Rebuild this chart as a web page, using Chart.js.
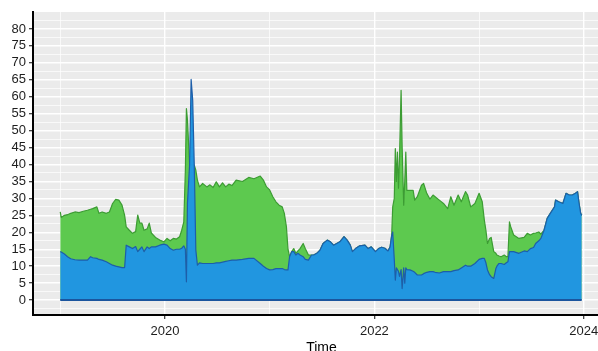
<!DOCTYPE html>
<html>
<head>
<meta charset="utf-8">
<script src="https://cdn.jsdelivr.net/npm/chart.js@4/dist/chart.umd.min.js"></script>
<style>
  html, body { margin: 0; padding: 0; background: #ffffff; overflow: hidden; }
  #wrap { width: 598px; height: 351px; overflow: hidden; position: relative; }
  canvas { display: block; }
</style>
</head>
<body>
<div id="wrap"><canvas id="chart" width="610" height="358"></canvas></div>
<script>
// Observation dates as decimal years
const dates = [
  2019.000, 2019.010, 2019.040, 2019.070, 2019.100, 2019.140, 2019.180, 2019.220, 2019.260, 2019.290,
  2019.310, 2019.350, 2019.370, 2019.400, 2019.440, 2019.470, 2019.500, 2019.530, 2019.560, 2019.590,
  2019.615, 2019.630, 2019.660, 2019.690, 2019.720, 2019.740, 2019.760, 2019.780, 2019.800, 2019.830,
  2019.850, 2019.870, 2019.910, 2019.950, 2019.990, 2020.020, 2020.050, 2020.080, 2020.110, 2020.140,
  2020.160, 2020.180, 2020.195, 2020.205, 2020.215, 2020.235, 2020.250, 2020.265, 2020.280, 2020.295,
  2020.310, 2020.330, 2020.360, 2020.400, 2020.430, 2020.460, 2020.490, 2020.520, 2020.550, 2020.580,
  2020.610, 2020.640, 2020.680, 2020.740, 2020.800, 2020.850, 2020.910, 2020.940, 2020.970, 2021.000,
  2021.030, 2021.060, 2021.090, 2021.120, 2021.140, 2021.160, 2021.175, 2021.190, 2021.210, 2021.230,
  2021.250, 2021.270, 2021.290, 2021.320, 2021.340, 2021.370, 2021.400, 2021.420, 2021.450, 2021.480,
  2021.510, 2021.550, 2021.580, 2021.610, 2021.640, 2021.670, 2021.710, 2021.740, 2021.770, 2021.790,
  2021.820, 2021.860, 2021.910, 2021.940, 2021.970, 2022.010, 2022.040, 2022.070, 2022.100, 2022.130,
  2022.150, 2022.165, 2022.175, 2022.190, 2022.200, 2022.210, 2022.220, 2022.230, 2022.240, 2022.255,
  2022.265, 2022.280, 2022.290, 2022.300, 2022.310, 2022.340, 2022.370, 2022.385, 2022.410, 2022.450,
  2022.470, 2022.500, 2022.530, 2022.560, 2022.580, 2022.620, 2022.660, 2022.700, 2022.730, 2022.760,
  2022.800, 2022.830, 2022.870, 2022.890, 2022.920, 2022.960, 2023.000, 2023.030, 2023.050, 2023.065,
  2023.080, 2023.100, 2023.115, 2023.140, 2023.160, 2023.170, 2023.190, 2023.210, 2023.240, 2023.260,
  2023.275, 2023.290, 2023.300, 2023.330, 2023.380, 2023.430, 2023.460, 2023.490, 2023.520, 2023.540,
  2023.570, 2023.590, 2023.620, 2023.650, 2023.680, 2023.720, 2023.730, 2023.760, 2023.800, 2023.830,
  2023.860, 2023.890, 2023.920, 2023.940, 2023.955, 2023.970, 2023.980
];

// Upper series (green area)
const upperSeries = [
  26.0, 24.4, 25.0, 25.2, 25.6, 26.0, 25.8, 26.2, 26.5, 26.8,
  27.0, 27.5, 25.6, 26.0, 25.6, 26.0, 28.5, 29.7, 29.5, 28.0,
  25.0, 21.6, 20.6, 19.7, 20.2, 25.1, 22.7, 22.7, 20.6, 21.0,
  22.7, 19.8, 18.5, 17.7, 17.2, 18.2, 17.5, 18.2, 18.0, 18.7,
  20.6, 23.1, 38.3, 56.5, 53.1, 40.0, 40.0, 39.8, 39.8, 38.3,
  35.4, 33.4, 34.4, 33.4, 34.0, 33.2, 34.9, 33.4, 34.6, 33.4,
  34.2, 33.8, 35.4, 35.0, 36.2, 35.8, 36.6, 35.4, 33.4, 32.5,
  30.5, 29.0, 28.0, 27.5, 25.6, 21.6, 15.0, 12.8, 14.3, 15.2,
  13.8, 14.5, 15.2, 16.7, 15.2, 13.3, 13.3, 13.3, 13.8, 14.7,
  16.7, 17.7, 17.2, 16.2, 16.7, 17.2, 18.7, 17.7, 16.2, 14.3,
  15.2, 16.0, 16.2, 15.2, 15.7, 14.3, 15.2, 15.6, 15.3, 14.5,
  15.7, 19.0, 27.5, 30.0, 44.7, 35.0, 43.7, 33.0, 42.0, 61.9,
  45.2, 28.0, 35.0, 43.7, 32.4, 32.4, 32.4, 29.5, 30.5, 33.9,
  34.4, 31.5, 29.8, 31.0, 30.5, 29.5, 28.5, 27.0, 30.5, 28.0,
  31.0, 29.0, 32.0, 31.0, 27.5, 28.5, 31.5, 29.0, 23.6, 20.6,
  16.7, 18.2, 18.5, 14.3, 13.8, 13.3, 13.0, 12.8, 13.3, 12.8,
  12.8, 23.1, 21.8, 19.2, 18.2, 18.5, 19.7, 19.2, 19.7, 19.8,
  20.1, 19.5, 20.6, 24.1, 25.6, 27.5, 29.5, 29.0, 28.5, 31.5,
  31.0, 31.0, 31.5, 32.0, 28.5, 25.6, 25.0
];

// Lower series (blue area)
const lowerSeries = [
  14.3, 14.2, 13.6, 12.8, 12.2, 11.9, 11.8, 11.8, 11.8, 12.8,
  12.5, 12.3, 12.0, 11.8, 11.3, 10.8, 10.3, 10.0, 9.8, 9.6,
  9.6, 16.2, 15.7, 15.2, 15.8, 14.3, 15.0, 15.7, 14.3, 15.7,
  15.2, 15.7, 15.7, 16.2, 16.5, 16.2, 15.2, 14.7, 15.0, 15.0,
  15.3, 16.0, 15.0, 5.4, 28.6, 39.8, 65.1, 59.0, 39.8, 14.7,
  10.3, 11.0, 10.8, 10.8, 10.8, 10.8, 11.0, 11.0, 11.2, 11.4,
  11.6, 11.8, 11.8, 12.0, 12.3, 12.3, 10.8, 10.0, 9.3, 8.9,
  9.0, 9.3, 9.3, 9.3, 9.0, 8.9, 8.9, 12.8, 14.3, 14.3,
  13.3, 13.8, 13.3, 12.8, 12.0, 11.8, 13.3, 13.3, 13.8, 14.7,
  16.7, 17.7, 17.2, 16.2, 16.7, 17.2, 18.7, 17.7, 16.2, 14.3,
  15.2, 16.0, 16.2, 15.2, 15.7, 14.3, 15.2, 15.6, 15.3, 14.5,
  15.7, 19.0, 20.1, 12.0, 5.9, 9.5, 9.0, 8.5, 7.0, 9.0,
  3.4, 9.5, 5.0, 9.5, 9.0, 8.9, 8.5, 8.2, 7.4, 7.4,
  7.8, 8.2, 8.4, 8.4, 8.2, 8.0, 8.4, 8.4, 8.4, 8.7,
  8.9, 9.5, 10.3, 10.0, 10.0, 10.8, 12.0, 12.3, 12.3, 11.0,
  8.9, 7.5, 6.9, 6.4, 9.3, 10.0, 10.8, 10.8, 10.5, 11.0,
  11.3, 14.3, 14.3, 14.3, 13.8, 14.5, 14.3, 15.2, 15.5, 16.7,
  17.5, 18.2, 20.6, 24.1, 25.6, 27.5, 29.5, 29.0, 28.5, 31.5,
  31.0, 31.0, 31.5, 32.0, 28.5, 25.6, 25.0
];

// Axis breaks
const yMajorTicks = [0, 5, 10, 15, 20, 25, 30, 35, 40, 45, 50, 55, 60, 65, 70, 75, 80];
const yMinorTicks = [-2.5, 2.5, 7.5, 12.5, 17.5, 22.5, 27.5, 32.5, 37.5, 42.5, 47.5, 52.5, 57.5, 62.5, 67.5, 72.5, 77.5, 82.5];
const xMajorTicks = [2020, 2022, 2024];
const xMinorTicks = [2019, 2021, 2023];
const xTitle = 'Time';

const FONT = '"Liberation Sans", Arial, Helvetica, sans-serif';
const toPoints = vals => dates.map((d, i) => ({ x: d, y: vals[i] }));
const isIn = (list, c) => !!(c && c.tick && list.includes(c.tick.value));

// Grey panel behind the grid
const panelBackground = {
  id: 'panelBackground',
  beforeDraw(chart) {
    const { ctx, chartArea: a } = chart;
    ctx.save();
    ctx.fillStyle = '#EBEBEB';
    ctx.fillRect(a.left, a.top, a.right - a.left, a.bottom - a.top);
    ctx.restore();
  }
};

new Chart(document.getElementById('chart'), {
  type: 'line',
  data: {
    datasets: [
      {
        label: 'baseline',
        data: [{ x: dates[0], y: 0 }, { x: dates[dates.length - 1], y: 0 }],
        borderColor: '#1b559e',
        borderWidth: 2,
        pointRadius: 0,
        fill: false
      },
      {
        label: 'lower',
        data: toPoints(lowerSeries),
        borderColor: '#1d5ea9',
        backgroundColor: '#2196E0',
        borderWidth: 1.2,
        borderJoinStyle: 'round',
        pointRadius: 0,
        tension: 0,
        fill: 'origin'
      },
      {
        label: 'upper',
        data: toPoints(upperSeries),
        borderColor: '#3c9c33',
        backgroundColor: '#5DC94F',
        borderWidth: 1.2,
        borderJoinStyle: 'round',
        pointRadius: 0,
        tension: 0,
        fill: 'origin'
      }
    ]
  },
  options: {
    responsive: false,
    animation: false,
    layout: { padding: { top: 12, left: 0, right: 0, bottom: 0 } },
    plugins: { legend: { display: false }, tooltip: { enabled: false } },
    scales: {
      x: {
        type: 'linear',
        min: 2018.74,
        max: 2024.25,
        afterBuildTicks(s) {
          s.ticks = [...xMinorTicks, ...xMajorTicks].sort((a, b) => a - b).map(v => ({ value: v }));
        },
        afterFit(s) { s.height = 43; },
        grid: {
          color: '#FFFFFF',
          lineWidth: c => isIn(xMajorTicks, c) ? 1.4 : 0.7,
          drawTicks: true,
          tickLength: 4,
          tickWidth: 1.2,
          tickColor: c => isIn(xMajorTicks, c) ? '#333333' : 'rgba(0,0,0,0)'
        },
        border: { display: true, color: '#000000', width: 2 },
        ticks: {
          autoSkip: false,
          maxRotation: 0,
          padding: 5,
          color: '#1e1e1e',
          font: { family: FONT, size: 13 },
          callback: v => xMajorTicks.includes(v) ? String(v) : ''
        },
        title: {
          display: true,
          text: xTitle,
          color: '#000000',
          font: { family: FONT, size: 14 },
          padding: { top: 0, bottom: 1 }
        }
      },
      y: {
        type: 'linear',
        min: -4.4,
        max: 85,
        afterBuildTicks(s) {
          s.ticks = [...yMinorTicks, ...yMajorTicks].sort((a, b) => a - b).map(v => ({ value: v }));
        },
        afterFit(s) { s.width = 33; },
        grid: {
          color: '#FFFFFF',
          lineWidth: c => isIn(yMajorTicks, c) ? 1.4 : 0.7,
          drawTicks: true,
          tickLength: 4,
          tickWidth: 1.2,
          tickColor: c => isIn(yMajorTicks, c) ? '#333333' : 'rgba(0,0,0,0)'
        },
        border: { display: true, color: '#000000', width: 2 },
        ticks: {
          autoSkip: false,
          padding: 3,
          color: '#1e1e1e',
          font: { family: FONT, size: 13 },
          callback: v => yMajorTicks.includes(v) ? String(v) : ''
        }
      }
    }
  },
  plugins: [panelBackground]
});
</script>
</body>
</html>
